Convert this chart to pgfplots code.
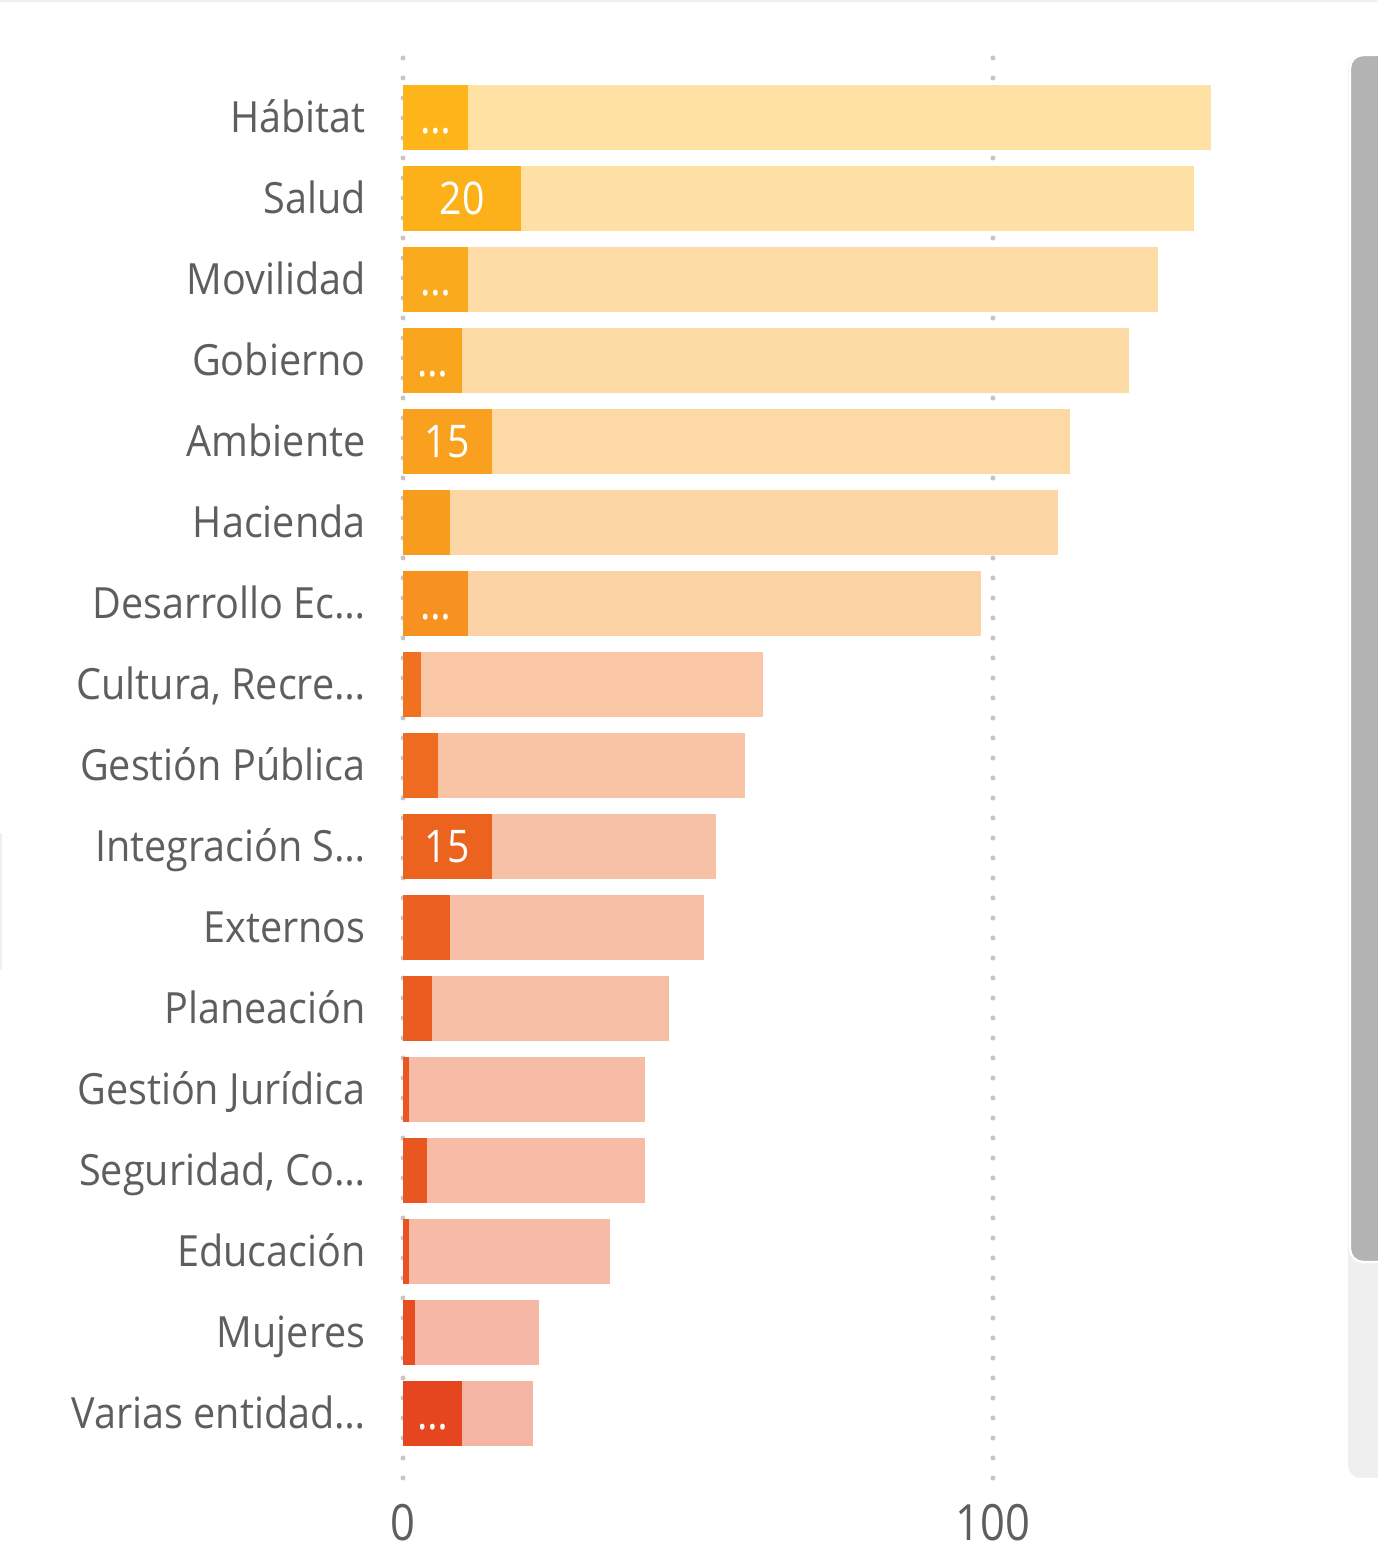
\documentclass[border=0pt]{standalone}
\usepackage{pgfplots}
\pgfplotsset{compat=1.18}
\usepackage{pgfplotstable}
\usepackage{fontspec}
\setmainfont{Open Sans}[FakeStretch=0.92]
\newfontfamily\numfont{Open Sans}[FakeStretch=0.87]
\definecolor{k16}{HTML}{FDB51A}
\definecolor{k15}{HTML}{FCB11B}
\definecolor{k14}{HTML}{FAAA1D}
\definecolor{k13}{HTML}{F9A61E}
\definecolor{k12}{HTML}{F9A11E}
\definecolor{k11}{HTML}{F89C1E}
\definecolor{k10}{HTML}{F7911F}
\definecolor{k9}{HTML}{F07220}
\definecolor{k8}{HTML}{EF6B20}
\definecolor{k7}{HTML}{EC6320}
\definecolor{k6}{HTML}{EC6020}
\definecolor{k5}{HTML}{EB5C20}
\definecolor{k4}{HTML}{EA5820}
\definecolor{k3}{HTML}{EA5620}
\definecolor{k2}{HTML}{E95221}
\definecolor{k1}{HTML}{E84C21}
\definecolor{k0}{HTML}{E5451F}
\definecolor{labelgray}{HTML}{605E5C}
\definecolor{gridgray}{HTML}{C8C6C4}
\definecolor{thumbgray}{HTML}{B3B3B3}
\definecolor{trackgray}{HTML}{EFEFEF}

\pgfplotstableread{
idx total done lab
16 137 11 …
15 134 20 20
14 128 11 …
13 123 10 …
12 113 15 15
11 111 8 {}
10 98 11 …
9 61 3 {}
8 58 6 {}
7 53 15 15
6 51 8 {}
5 45 5 {}
4 41 1 {}
3 41 4 {}
2 35 1 {}
1 23 2 {}
0 22 10 …
}\data

\begin{document}
\begin{tikzpicture}
\useasboundingbox (0,0) rectangle (688.5pt,779pt);
\fill[trackgray] (0,778pt) rectangle (688.5pt,779pt);
\fill[trackgray] (0,294pt) rectangle (1pt,362.5pt);
\fill[trackgray, rounded corners=6.5pt] (674pt,40pt) rectangle (710pt,751.5pt);
\filldraw[fill=thumbgray, draw=white, line width=1.2pt, rounded corners=6.5pt] (675pt,148pt) rectangle (710pt,751.5pt);
\begin{axis}[
  at={(201.5pt,40pt)}, anchor=south west,
  scale only axis,
  width=442.5pt, height=710.5pt,
  xmin=0, xmax=150,
  ymin=-0.796, ymax=16.747,
  axis line style={draw=none},
  tick style={draw=none},
  major tick length=0pt,
  xtick={0,100},
  xmajorgrids=true,
  grid style={draw=gridgray, line width=2.5pt, line cap=round, dash pattern=on 0pt off 10pt},
  ytick={0,...,16},
  yticklabels={Varias entidad…, Mujeres, Educación, {Seguridad, Co…}, Gestión Jurídica, Planeación, Externos, Integración S…, Gestión Pública, {Cultura, Recre…}, Desarrollo Ec…, Hacienda, Ambiente, Gobierno, Movilidad, Salud, Hábitat},
  /pgf/number format/assume math mode=true,
  xticklabel style={font=\numfont\fontsize{25}{25}\selectfont, text=labelgray, anchor=base, yshift=-31pt, inner sep=0pt},
  yticklabel style={font=\fontsize{21.5}{21.5}\selectfont, text=labelgray, anchor=base east, inner sep=0pt, xshift=-18.5pt, yshift=-7.3pt},
  clip=false,
]
\pgfplotsinvokeforeach{0,...,16}{
  \addplot[xbar, bar shift=0pt, bar width=32.5pt, draw=none, fill=k#1!40!white, restrict y to domain=#1:#1] table[x=total, y=idx] {\data};
  \addplot[xbar, bar shift=0pt, bar width=32.5pt, draw=none, fill=k#1, restrict y to domain=#1:#1] table[x=done, y=idx] {\data};
}
\addplot[draw=none, mark=none, nodes near coords, point meta=explicit symbolic,
  nodes near coords style={anchor=center, text=white, font=\numfont\fontsize{22.5}{22.5}\selectfont, text height=16pt, text depth=0pt, inner sep=0pt}]
  table[x expr=\thisrow{done}/2, y=idx, meta=lab] {\data};
\end{axis}
\end{tikzpicture}
\end{document}
